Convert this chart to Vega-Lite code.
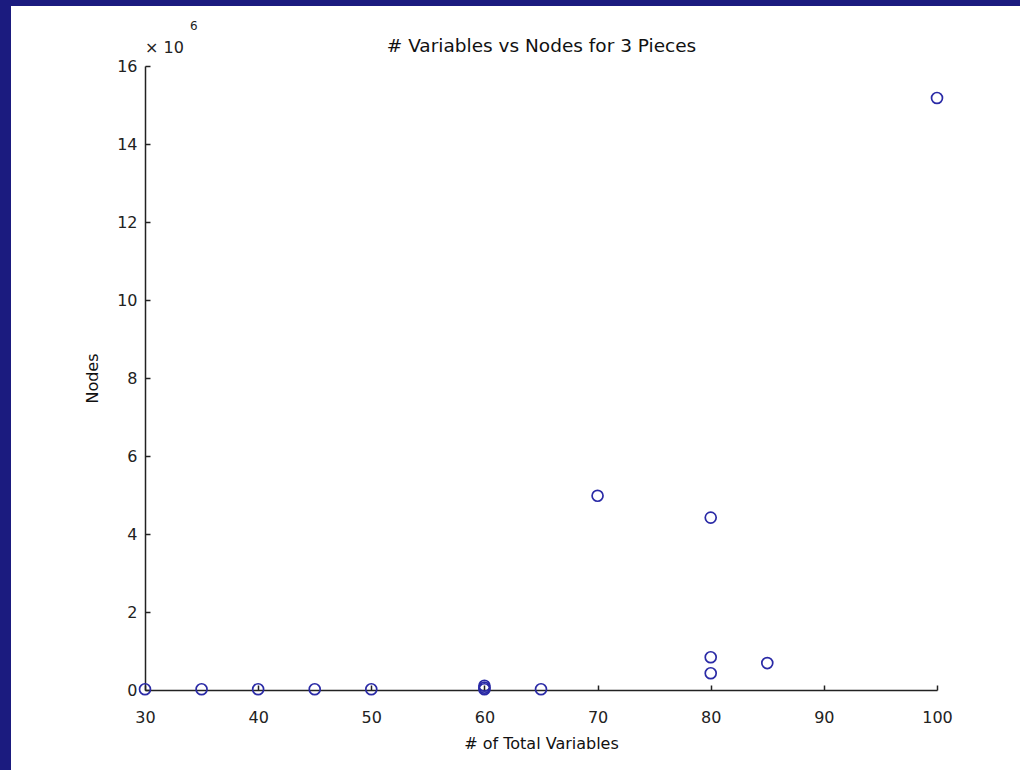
{
  "$schema": "https://vega.github.io/schema/vega-lite/v6.json",
  "autosize": "none",
  "width": 1009,
  "height": 764,
  "padding": {"left": 11, "top": 6, "right": 0, "bottom": 0},
  "background": "#1b1b7f",
  "config": {
    "view": {"fill": "white", "stroke": null},
    "font": "DejaVu Sans"
  },
  "title": {
    "text": "# Variables vs Nodes for 3 Pieces",
    "fontSize": 18.5,
    "fontWeight": "normal",
    "font": "DejaVu Sans",
    "color": "#111",
    "anchor": "middle",
    "offset": 0,
    "dx": 26,
    "dy": 49
  },
  "data": {
    "values": [
      {"variables": 30, "nodes": 20000},
      {"variables": 35, "nodes": 20000},
      {"variables": 40, "nodes": 20000},
      {"variables": 45, "nodes": 20000},
      {"variables": 50, "nodes": 20000},
      {"variables": 60, "nodes": 20000},
      {"variables": 60, "nodes": 60000},
      {"variables": 60, "nodes": 110000},
      {"variables": 65, "nodes": 20000},
      {"variables": 70, "nodes": 4980000},
      {"variables": 80, "nodes": 4420000},
      {"variables": 80, "nodes": 840000},
      {"variables": 80, "nodes": 430000},
      {"variables": 85, "nodes": 690000},
      {"variables": 100, "nodes": 15180000}
    ]
  },
  "layer": [
    {
      "mark": {"type": "point", "shape": "circle", "filled": false, "color": "#2a2aa6", "size": 120, "strokeWidth": 1.7, "opacity": 1},
      "encoding": {
        "x": {
          "field": "variables",
          "type": "quantitative",
          "scale": {"domain": [30, 100], "range": [134, 926], "nice": false, "zero": false},
          "axis": {
            "title": "# of Total Variables",
            "orient": "bottom",
            "offset": -80,
            "values": [30, 40, 50, 60, 70, 80, 90, 100],
            "grid": false,
            "labelFlush": false,
            "domainColor": "#222",
            "domainWidth": 1.5,
            "tickColor": "#222",
            "tickSize": -5,
            "tickWidth": 1.5,
            "labelFontSize": 16,
            "labelColor": "#222",
            "labelPadding": 24,
            "titleFontSize": 16,
            "titleFontWeight": "normal",
            "titleColor": "#111",
            "titlePadding": 10
          }
        },
        "y": {
          "field": "nodes",
          "type": "quantitative",
          "scale": {"domain": [0, 16000000], "range": [684, 60], "nice": false, "zero": false},
          "axis": {
            "title": "Nodes",
            "orient": "left",
            "offset": -134,
            "values": [0, 2000000, 4000000, 6000000, 8000000, 10000000, 12000000, 14000000, 16000000],
            "labelExpr": "format(datum.value / 1000000, 'd')",
            "grid": false,
            "labelFlush": false,
            "domainColor": "#222",
            "domainWidth": 1.5,
            "tickColor": "#222",
            "tickSize": -5,
            "tickWidth": 1.5,
            "labelFontSize": 16,
            "labelColor": "#222",
            "labelPadding": 13,
            "titleFontSize": 16,
            "titleFontWeight": "normal",
            "titleColor": "#111",
            "titlePadding": 16
          }
        }
      }
    },
    {
      "data": {"values": [{}]},
      "mark": {"type": "text", "text": "× 10", "fontSize": 16, "color": "#222", "align": "left", "baseline": "middle", "dx": 0, "dy": -18},
      "encoding": {
        "x": {"datum": 30, "type": "quantitative"},
        "y": {"datum": 16000000, "type": "quantitative"}
      }
    },
    {
      "data": {"values": [{}]},
      "mark": {"type": "text", "text": "6", "fontSize": 12, "color": "#222", "align": "left", "baseline": "middle", "dx": 45, "dy": -40},
      "encoding": {
        "x": {"datum": 30, "type": "quantitative"},
        "y": {"datum": 16000000, "type": "quantitative"}
      }
    }
  ]
}
